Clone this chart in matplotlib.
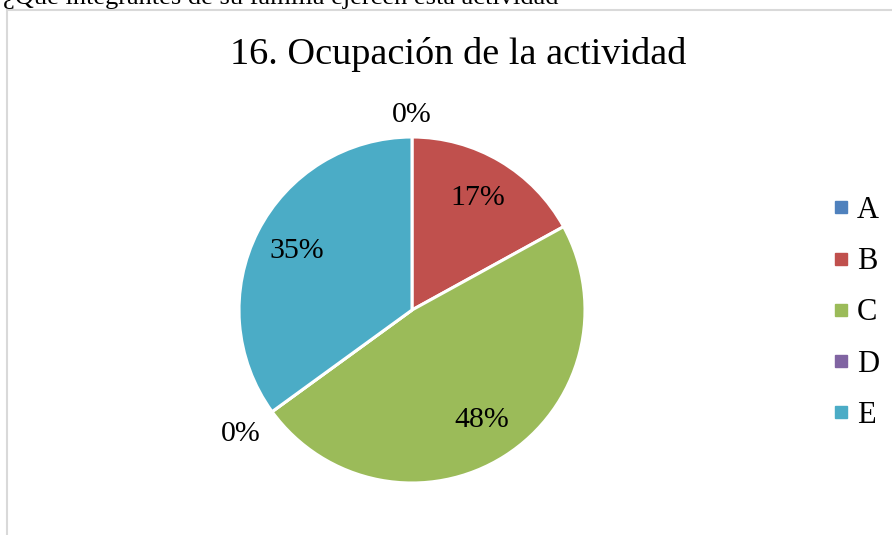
import numpy as np
import matplotlib
matplotlib.use("Agg")
import matplotlib.pyplot as plt
from matplotlib.lines import Line2D
from matplotlib.patches import Rectangle

plt.rcParams['font.family'] = ['Liberation Serif', 'DejaVu Serif']

# data
categories = ['A', 'B', 'C', 'D', 'E']
values = [0, 17, 48, 0, 35]
colors = ['#4F81BD', '#C0504D', '#9BBB59', '#8064A2', '#4BACC6']
title = '16. Ocupación de la actividad'
question = '¿Qué integrantes de su familia ejercen esta actividad'

W, H = 892, 535
fig = plt.figure(figsize=(W / 100.0, H / 100.0), dpi=100)

# chart frame (light grey border, cut off at right/bottom)
fig.patches.append(Rectangle((7.0 / W, -0.05), 1.2, 1 - 10.0 / H + 0.05,
                             transform=fig.transFigure, fill=False,
                             edgecolor='#d9d9d9', linewidth=1.5))

# cut-off question text at very top (partly outside, as in the source)
fig.text(3.0 / W, 1 - 4.0 / H, question, fontsize=19, va='baseline', ha='left')

fig.text(458.0 / W, 1 - 55.0 / H, title, fontsize=27.5, ha='center', va='center')

cx, cy, r = 412.0, 310.0, 173.0
ax = fig.add_axes([(cx - r) / W, (H - cy - r) / H, 2 * r / W, 2 * r / H])
wedges, _ = ax.pie(values, colors=colors, startangle=90, counterclock=False,
                   radius=1.0, wedgeprops=dict(edgecolor='white', linewidth=2.2))
ax.set_xlim(-1, 1)
ax.set_ylim(-1, 1)
ax.set_aspect('equal')
ax.axis('off')

total = float(sum(values))
for w, v in zip(wedges, values):
    ang = np.deg2rad((w.theta1 + w.theta2) / 2.0)
    if v == 0:
        # zero slices: label sits outside the pie
        rr = 1.13 if np.sin(ang) > 0.9 else 1.22
    else:
        rr = 0.75
    ax.text(rr * np.cos(ang), rr * np.sin(ang), '%d%%' % round(100 * v / total),
            fontsize=21.5, ha='center', va='center')

handles = [Line2D([], [], marker='s', linestyle='none', markersize=8,
                  markerfacecolor=c, markeredgecolor=c) for c in colors]
fig.legend(handles, categories, loc='center left',
           bbox_to_anchor=(834.0 / W, 1 - 313.0 / H), frameon=False,
           fontsize=22, handlelength=0.45, handletextpad=0.3,
           labelspacing=0.73, borderpad=0, borderaxespad=0)

fig.savefig('out.png', dpi=100)
